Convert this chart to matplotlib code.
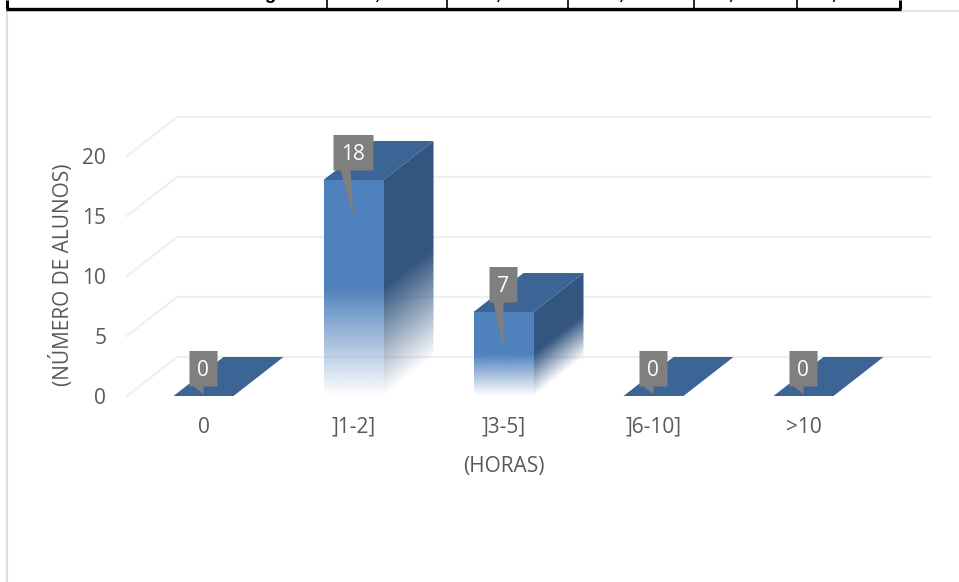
import numpy as np
import matplotlib
matplotlib.use("Agg")
import matplotlib.pyplot as plt
from matplotlib.patches import Polygon
from matplotlib.lines import Line2D

categories = ["0", "]1-2]", "]3-5]", "]6-10]", ">10"]
values = [0, 18, 7, 0, 0]
y_ticks = [0, 5, 10, 15, 20]
x_label = "(HORAS)"
y_label = "(NÚMERO DE ALUNOS)"
table_cells = ["Percentagem", "19,36%", "41,94%", "16,13%", "9,68%", "6,45%"]

W, H = 959, 582
plt.rcParams["font.family"] = ["Open Sans", "DejaVu Sans"]
fig = plt.figure(figsize=(W / 100, H / 100), dpi=100, facecolor="white")

# plot region in pixels
L, R, B, T = 127, 880, 396, 100
PX_X, PX_Y = 150.0, 12.0
ax = fig.add_axes([L / W, 1 - B / H, (R - L) / W, (B - T) / H])
CX0 = 203.5
ax.set_xlim((L - CX0) / PX_X, (R - CX0) / PX_X)
ax.set_ylim(0, (B - T) / PX_Y)
ax.patch.set_alpha(0)
for s in ax.spines.values():
    s.set_visible(False)

GREY = "#595959"
FS = 15
ax.set_xticks(range(len(categories)), categories)
ax.set_yticks(y_ticks)
ax.tick_params(axis="both", length=0, labelsize=FS, labelcolor=GREY)
ax.tick_params(axis="x", pad=15)
ax.tick_params(axis="y", pad=15)
ax.set_xlabel(x_label, color=GREY, fontsize=FS, labelpad=13)
ax.set_ylabel(y_label, color=GREY, fontsize=FS, labelpad=6, y=(B - 275) / (B - T))

DX = 50 / PX_X        # depth, in category units
DY = 39 / PX_Y        # depth, in value units
HW = 30 / PX_X        # half bar width
x_left = ax.get_xlim()[0]
x_right = ax.get_xlim()[1]

# back-wall gridlines and the side-wall diagonals
for t in y_ticks:
    ax.plot([x_left, x_left + DX, x_right + DX], [t, t + DY, t + DY],
            color="#F0F0F0", lw=1.6, clip_on=False, zorder=1, solid_joinstyle="miter")

FRONT = np.array(matplotlib.colors.to_rgb("#4F81BD"))
TOP = "#3C6494"
SIDE = np.array(matplotlib.colors.to_rgb("#335680"))


def fade(level, h):
    """Opacity of a face at height `level` of a bar of height h."""
    return np.clip(level / (h / 2), 0, 1)


for i, h in enumerate(values):
    x0, x1 = i - HW, i + HW
    # top face (the only one visible when the value is zero)
    ax.add_patch(Polygon([(x0, h), (x1, h), (x1 + DX, h + DY), (x0 + DX, h + DY)],
                         closed=True, fc=TOP, ec="none", zorder=3, clip_on=False))
    if h <= 0:
        continue
    # front face
    yy = np.linspace(0, h, 240)[:, None]
    rgba = np.zeros((240, 2, 4))
    rgba[..., :3] = FRONT
    rgba[..., 3] = fade(yy, h)
    ax.imshow(rgba, extent=[x0, x1, 0, h], origin="lower", aspect="auto",
              interpolation="bilinear", zorder=4)
    # side face, fading parallel to the floor
    xs = np.linspace(0, 1, 80)
    ys = np.linspace(0, h + DY, 300)
    gx, gy = np.meshgrid(xs, ys)
    rgba = np.zeros((300, 80, 4))
    rgba[..., :3] = SIDE
    rgba[..., 3] = fade(gy - gx * DY, h)
    im = ax.imshow(rgba, extent=[x1, x1 + DX, 0, h + DY], origin="lower", aspect="auto",
                   interpolation="bilinear", zorder=4)
    clip = Polygon([(x1, 0), (x1 + DX, DY), (x1 + DX, h + DY), (x1, h)], closed=True,
                   transform=ax.transData, fc="none", ec="none")
    ax.add_patch(clip)
    im.set_clip_path(clip)

ax.set_xlim((L - CX0) / PX_X, (R - CX0) / PX_X)
ax.set_ylim(0, (B - T) / PX_Y)

# value callouts
for i, h in enumerate(values):
    half = 20 if h >= 10 else 14
    ux, uy = 1 / PX_X, 1 / PX_Y
    top, bot = h + 45 * uy, h + 9.5 * uy
    tip = h - 37 * uy if h > 0 else h + 2 * uy
    base = [(-half, bot), (-half, top), (half, top), (half, bot)]
    poly = [(i + a * ux, b) for a, b in base]
    b0, b1 = (-13, -3) if h >= 10 else (-10, 0)
    poly = poly + [(i + b1 * ux, bot), (i, tip), (i + b0 * ux, bot)]
    ax.add_patch(Polygon(poly, closed=True, fc="#7F7F7F", ec="none", zorder=6, clip_on=False))
    ax.text(i - 0.5 * ux, (top + bot) / 2 - 2 * uy, str(h), color="white", fontsize=FS, ha="center",
            va="center", zorder=7)


# page fragments around the chart: chart frame and the table cut off above it
def px_line(xs, ys, color, lw):
    fig.add_artist(Line2D([x / W for x in xs], [1 - y / H for y in ys], color=color, lw=lw,
                          transform=fig.transFigure, solid_capstyle="butt"))


px_line([6.5, 6.5], [10, 582], "#DEDEDE", 1.5)
px_line([6, 959], [10.5, 10.5], "#DEDEDE", 1.2)
px_line([6, 901], [8.5, 8.5], "black", 2.4)
px_line([7, 7], [0, 9], "black", 2.2)
for x in [327, 447, 568, 694, 797]:
    px_line([x, x], [0, 9], "black", 1.2)
px_line([899.5, 899.5], [0, 9], "black", 2.2)

cell_x = [245, 387, 507, 631, 745, 848]
for cx, s in zip(cell_x, table_cells):
    fig.text(cx / W, 1 + 1.0 / H, s, family=["Liberation Sans"], fontweight="bold",
             fontsize=13.5, color="black", ha="center", va="baseline")

fig.savefig("out.png", dpi=100, facecolor="white")
